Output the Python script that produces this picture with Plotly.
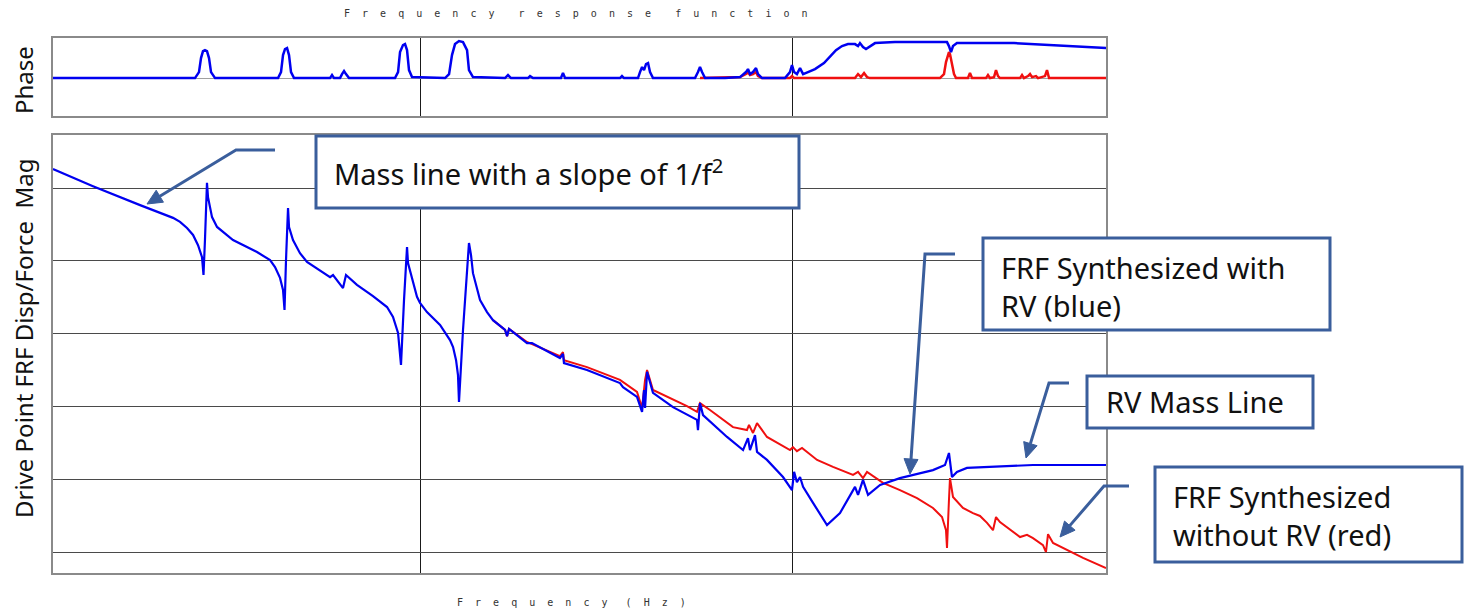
import math
import plotly.graph_objects as go

# ---------------- data ----------------
# Drive-point FRF magnitude (dB re 1 m/N) synthesized with residual vectors (blue)
blue_mag_f = [1.031, 1.321, 1.768, 2.168, 2.264, 2.364, 2.454, 2.531, 2.594, 2.618,
              2.642, 2.675, 2.692, 2.760, 2.847, 2.991, 3.143, 3.646, 3.953, 4.076,
              4.153, 4.204, 4.283, 4.323, 4.363, 4.418, 4.445, 4.556, 4.757, 4.968,
              5.730, 5.837, 6.209, 6.325, 6.769, 7.475, 8.153, 8.461, 8.729, 8.890,
              9.057, 9.228, 9.284, 9.517, 9.815, 10.0, 10.44, 11.32, 12.04, 12.27,
              12.50, 12.65, 12.73, 13.05, 13.54, 13.71, 13.88, 14.50, 15.14, 15.71,
              16.93, 17.14, 17.35, 19.39, 20.00, 23.78, 24.23, 24.38, 28.11, 34.48,
              35.13, 38.31, 39.53, 40.02, 40.27, 40.77, 42.30, 47.87, 55.54, 55.88,
              56.58, 57.65, 66.89, 73.86, 76.15, 77.10, 79.53, 80.53, 85.66, 94.58,
              100.0, 101.3, 103.1, 105.1, 107.1, 113.9, 124.2, 134.6, 143.2, 147.7,
              150.5, 155.2, 160.1, 172.5, 195.1, 211.5, 239.3, 257.8, 264.2, 269.2,
              277.6, 295.3, 362.3, 444.5, 698.5]
blue_mag_db = [-34.8, -39.5, -44.7, -48.2, -49.3, -51.0, -52.9, -55.7, -59.0, -63.9,
               -54.3, -38.6, -42.5, -48.0, -50.7, -52.4, -54.3, -57.6, -59.8, -61.7,
               -63.4, -64.7, -68.0, -73.5, -59.8, -45.5, -50.7, -54.3, -57.9, -60.3,
               -64.5, -63.9, -67.5, -63.9, -66.6, -69.7, -72.7, -75.4, -79.8, -88.6,
               -70.8, -56.2, -60.6, -64.5, -69.9, -71.6, -74.1, -77.6, -81.8, -83.7,
               -87.3, -91.4, -98.8, -79.0, -55.1, -58.4, -63.4, -70.8, -74.1, -76.3,
               -79.0, -80.7, -78.7, -82.6, -82.6, -86.7, -85.6, -88.1, -90.0, -93.6,
               -94.7, -97.4, -101.5, -95.5, -100.4, -90.5, -96.3, -100.2, -103.7, -106.5,
               -99.1, -102.4, -108.4, -112.0, -108.7, -112.0, -107.9, -112.5, -114.7, -119.4,
               -123.0, -118.0, -120.8, -119.4, -122.1, -126.5, -132.6, -129.3, -124.3, -122.1,
               -124.3, -120.2, -124.3, -121.6, -119.7, -118.8, -117.5, -116.1, -112.8, -119.4,
               -118.0, -116.9, -116.4, -116.1, -116.1]

# FRF magnitude synthesized without residual vectors (red)
red_mag_f = [15.71, 16.93, 17.14, 17.35, 19.39, 23.78, 24.23, 24.38, 28.11, 34.48,
             38.31, 39.53, 40.27, 40.77, 42.30, 52.20, 55.54, 56.58, 60.19, 69.41,
             75.68, 76.63, 78.56, 80.53, 85.66, 98.76, 100.6, 103.1, 106.4, 116.8,
             128.9, 145.9, 150.5, 155.2, 159.1, 175.6, 195.1, 216.8, 239.3, 253.1,
             259.4, 261.0, 264.2, 265.9, 270.9, 288.1, 306.5, 320.2, 334.4, 347.0,
             353.5, 362.3, 410.2, 428.3, 444.5, 472.8, 481.7, 487.8, 503.1, 548.6,
             605.8, 698.5]
red_mag_db = [-76.3, -79.0, -80.7, -78.7, -82.3, -86.2, -85.1, -87.3, -89.2, -92.7,
              -96.0, -100.4, -92.7, -90.0, -95.5, -99.9, -101.5, -99.1, -101.0, -105.7,
              -106.5, -105.1, -107.3, -104.6, -108.4, -112.0, -111.2, -112.3, -111.4, -114.7,
              -116.6, -118.8, -118.0, -119.7, -118.0, -121.0, -123.0, -125.2, -127.9, -130.4,
              -134.0, -138.9, -125.7, -119.7, -124.9, -127.9, -129.3, -130.1, -132.0, -134.0,
              -130.4, -131.8, -135.9, -135.3, -136.2, -138.1, -140.0, -135.1, -137.5, -139.5,
              -141.6, -144.4]

# Phase (deg), with residual vectors
blue_ph_f = [1.031, 2.484, 2.546, 2.578, 2.610, 2.642, 2.675, 2.709, 2.743, 2.812,
             4.153, 4.230, 4.283, 4.336, 4.391, 4.445, 4.500, 4.585, 5.730, 5.801,
             5.874, 6.095, 6.171, 6.248, 6.325, 6.444, 8.566, 8.729, 8.837, 9.001,
             9.114, 9.228, 9.342, 9.517, 11.68, 11.97, 12.19, 12.42, 12.73, 13.05,
             13.38, 13.54, 13.88, 16.93, 17.24, 17.56, 19.51, 19.76, 20.13, 23.93,
             24.23, 24.54, 34.48, 34.91, 35.35, 38.55, 39.03, 39.53, 40.02, 40.51,
             41.02, 41.53, 42.30, 54.86, 55.88, 56.58, 57.30, 58.38, 66.07, 72.49,
             75.21, 76.15, 77.10, 78.56, 80.03, 81.03, 83.07, 95.76, 98.76, 100.0,
             101.3, 103.1, 105.1, 107.1, 110.4, 115.3, 121.9, 126.6, 131.3, 136.3,
             141.4, 147.7, 150.5, 152.3, 155.2, 158.1, 162.1, 167.2, 189.2, 261.0,
             264.2, 267.6, 270.9, 277.6, 395.3, 503.1, 698.5]
blue_ph_deg = [0, 0, 27.7, 92.3, 124.6, 129.2, 124.6, 92.3, 27.7, 0,
               0, 27.7, 106.1, 133.8, 138.5, 106.1, 27.7, 0, 0, 13.8,
               0, 0, 18.5, 32.3, 18.5, 0, 0, 27.7, 120.0, 152.3,
               156.9, 129.2, 36.9, 4.6, 0, 18.5, 106.1, 156.9, 170.8, 166.1,
               129.2, 36.9, 4.6, 0, 13.8, 0, 0, 9.2, 0, 0,
               23.1, 0, 0, 9.2, 0, 0, 27.7, 50.8, 36.9, 64.6,
               69.2, 27.7, 0, 0, 27.7, 50.8, 27.7, 0, 0, 4.6,
               27.7, 41.5, 18.5, 27.7, 46.2, 18.5, 0, 0, 27.7, 60.0,
               27.7, 18.5, 46.2, 18.5, 27.7, 41.5, 69.2, 101.5, 129.2, 147.7,
               156.9, 156.9, 147.7, 161.5, 143.1, 133.8, 147.7, 161.5, 166.1, 166.1,
               147.7, 120.0, 147.7, 161.5, 161.5, 152.3, 138.5]

# Phase (deg), without residual vectors
red_ph_f = [56.58, 72.49, 75.21, 76.15, 77.10, 78.56, 80.03, 81.03, 83.07, 98.76,
            100.0, 101.3, 147.7, 150.5, 153.3, 156.2, 159.1, 162.1, 249.9, 256.2,
            259.4, 262.6, 264.2, 265.9, 269.2, 272.6, 276.0, 297.2, 300.9, 304.7,
            332.3, 336.4, 340.6, 349.2, 353.5, 357.9, 362.3, 410.2, 415.3, 420.4,
            431.0, 436.4, 441.9, 452.9, 458.5, 478.7, 484.7, 490.9, 698.5]
red_ph_deg = [0, 4.6, 18.5, 27.7, 13.8, 18.5, 27.7, 9.2, 0, 0,
              9.2, 0, 0, 18.5, 4.6, 23.1, 4.6, 0, 0, 18.5,
              73.8, 110.8, 120.0, 110.8, 64.6, 18.5, 0, 0, 23.1, 0,
              0, 13.8, 0, 4.6, 36.9, 9.2, 0, 0, 13.8, 0,
              9.2, 18.5, 4.6, 9.2, 0, 9.2, 36.9, 0, 0]

mag_grid_db = [-140, -120, -100, -80, -60, -40]
freq_grid_hz = [10, 100]

# ---------------- page geometry ----------------
W, H = 1464, 611
ML, MR, MT, MB = 53, 358, 38, 38


def px(x):
    return (x - ML) / (W - ML - MR)


def py(y):
    return (H - MB - y) / (H - MT - MB)


BLUE = "#0000F0"
RED = "#F01010"
CALLOUT = "#3A5E9C"
FONT = "Noto Sans"

fig = go.Figure()

fig.add_trace(go.Scatter(x=red_ph_f, y=red_ph_deg, mode="lines",
                         line=dict(color=RED, width=2.5), xaxis="x", yaxis="y",
                         hoverinfo="skip"))
fig.add_trace(go.Scatter(x=blue_ph_f, y=blue_ph_deg, mode="lines",
                         line=dict(color=BLUE, width=2.5), xaxis="x", yaxis="y",
                         hoverinfo="skip"))
fig.add_trace(go.Scatter(x=red_mag_f, y=red_mag_db, mode="lines",
                         line=dict(color=RED, width=2), xaxis="x2", yaxis="y2",
                         hoverinfo="skip"))
fig.add_trace(go.Scatter(x=blue_mag_f, y=blue_mag_db, mode="lines",
                         line=dict(color=BLUE, width=2.2), xaxis="x2", yaxis="y2",
                         hoverinfo="skip"))

xcommon = dict(type="log", range=[0.0134, 2.8441], tickmode="array",
               tickvals=freq_grid_hz, showticklabels=False, ticks="",
               showgrid=True, gridcolor="#1a1a1a", gridwidth=1,
               showline=True, mirror=True, linecolor="#8a8a8a", linewidth=2,
               zeroline=False)

fig.update_layout(
    width=W, height=H,
    margin=dict(l=ML, r=MR, t=MT, b=MB),
    paper_bgcolor="white", plot_bgcolor="white",
    showlegend=False,
    font=dict(family=FONT, color="#111111"),
    xaxis=dict(**xcommon, domain=[0, 1], anchor="y"),
    yaxis=dict(domain=[py(116), 1], range=[-175, 185], tickmode="array",
               tickvals=[0], showticklabels=False, ticks="",
               showgrid=True, gridcolor="#a0a0a0", gridwidth=1,
               showline=True, mirror=True, linecolor="#8a8a8a", linewidth=2,
               zeroline=False, anchor="x"),
    xaxis2=dict(**xcommon, domain=[0, 1], anchor="y2"),
    yaxis2=dict(domain=[0, py(135)], range=[-145.77, -25.44], tickmode="array",
                tickvals=mag_grid_db, showticklabels=False, ticks="",
                showgrid=True, gridcolor="#4a4a4a", gridwidth=1,
                showline=True, mirror=True, linecolor="#8a8a8a", linewidth=2,
                zeroline=False, anchor="x2"),
)


def spaced(text, gap=2, word_gap=4):
    nb = "\u00a0"
    return (nb * word_gap).join((nb * gap).join(w) for w in text.split(" "))


mono = dict(family="DejaVu Sans Mono", size=10, color="#333333")
fig.add_annotation(text=spaced("Frequency response function"), x=px(576), y=py(14),
                   xref="paper", yref="paper", showarrow=False, font=mono,
                   xanchor="center", yanchor="middle")
fig.add_annotation(text=spaced("Frequency (Hz)", word_gap=3), x=px(571), y=py(602),
                   xref="paper", yref="paper", showarrow=False, font=mono,
                   xanchor="center", yanchor="middle")

# axis titles
fig.add_annotation(text="Phase", x=px(23), y=py(80), xref="paper", yref="paper",
                   showarrow=False, textangle=-90, font=dict(family=FONT, size=24),
                   xanchor="center", yanchor="middle")
fig.add_annotation(text="Drive Point FRF Disp/Force\u00a0\u00a0Mag", x=px(23), y=py(339),
                   xref="paper", yref="paper", showarrow=False, textangle=-90,
                   font=dict(family=FONT, size=24), xanchor="center", yanchor="middle")

# callout boxes
boxes = [
    (316, 136, 799, 208),
    (983, 238, 1330, 330),
    (1087, 376, 1313, 428),
    (1155, 467, 1462, 562),
]
for x0, y0, x1, y1 in boxes:
    fig.add_shape(type="rect", xref="paper", yref="paper",
                  x0=px(x0), x1=px(x1), y0=py(y0), y1=py(y1),
                  line=dict(color=CALLOUT, width=3), fillcolor="white", layer="above")

callout_font = dict(family=FONT, size=29, color="#111111")
labels = [
    ("Mass line with a slope of 1/f<sup>2</sup>", 332, 172),
    ("FRF Synthesized with<br>RV (blue)", 999, 286),
    ("RV Mass Line", 1104, 402),
    ("FRF Synthesized<br>without RV (red)", 1171, 515),
]
for txt, x, y in labels:
    fig.add_annotation(text=txt, x=px(x), y=py(y), xref="paper", yref="paper",
                       showarrow=False, font=callout_font, align="left",
                       xanchor="left", yanchor="middle")

# leader lines: short horizontal stub, a slanted shaft and a filled arrowhead
leaders = [
    ((275, 150), (236, 150), (147, 204)),
    ((955, 254), (925, 254), (910, 474)),
    ((1069, 383), (1049, 383), (1026, 458)),
    ((1129, 486), (1104, 486), (1060, 537)),
]
HEAD_LEN, HEAD_HALF = 15, 7
for (sx, sy), (kx, ky), (tx, ty) in leaders:
    dx, dy = tx - kx, ty - ky
    n = math.hypot(dx, dy)
    ux, uy = dx / n, dy / n
    bx, by = tx - ux * HEAD_LEN, ty - uy * HEAD_LEN
    path = [(sx, sy), (kx, ky), (bx, by)]
    fig.add_shape(type="path", xref="paper", yref="paper",
                  path="M " + " L ".join(f"{px(a):.5f},{py(b):.5f}" for a, b in path),
                  line=dict(color=CALLOUT, width=3), layer="above")
    head = [(tx, ty), (bx - uy * HEAD_HALF, by + ux * HEAD_HALF),
            (bx + uy * HEAD_HALF, by - ux * HEAD_HALF)]
    fig.add_shape(type="path", xref="paper", yref="paper",
                  path="M " + " L ".join(f"{px(a):.5f},{py(b):.5f}" for a, b in head) + " Z",
                  line=dict(color=CALLOUT, width=1), fillcolor=CALLOUT, layer="above")

fig.write_html("out.html")
